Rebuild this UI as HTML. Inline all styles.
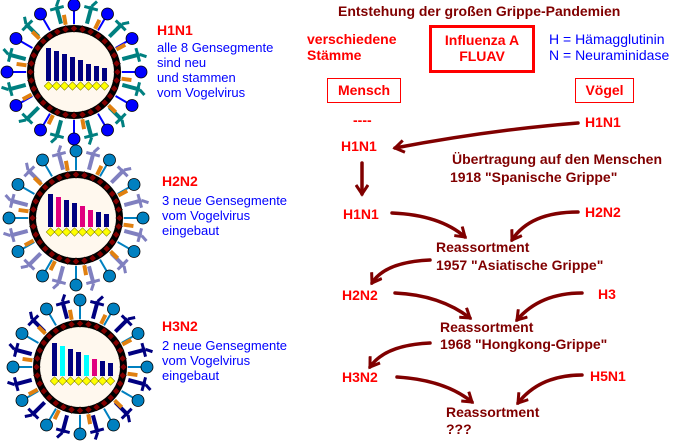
<!DOCTYPE html>
<html><head><meta charset="utf-8"><style>
body{margin:0;background:#fff;width:694px;height:441px;overflow:hidden;position:relative;font-family:"Liberation Sans",sans-serif}
.t{position:absolute;white-space:nowrap;line-height:16px}
.b{font-weight:bold}
.r{color:#ff0000}.d{color:#800000}.bl{color:#0000ff}
.s13{font-size:13px}.s14{font-size:14px}
.box{position:absolute;border:1px solid #ff0000}
</style></head><body>
<svg id="sv" width="694" height="441" style="position:absolute;left:0;top:0">
<defs><marker id="ah" markerWidth="14" markerHeight="14" refX="10" refY="7" orient="auto" markerUnits="userSpaceOnUse">
<polyline points="1,1 10,7 1,13" fill="none" stroke="#800000" stroke-width="3"/></marker></defs>
<g fill="none" stroke="#800000" stroke-width="3.5" stroke-linecap="round" marker-end="url(#ah)">
<path d="M578,123 Q490,130 395,148"/>
<path d="M362,163 L362,194"/>
<path d="M392,213 Q440,215 465,237"/>
<path d="M578,212 Q530,212 512,240"/>
<path d="M430,260 Q385,262 372,283"/>
<path d="M395,293 Q440,295 470,318"/>
<path d="M582,293 Q540,293 517,320"/>
<path d="M430,343 Q385,345 370,367"/>
<path d="M397,377 Q445,380 472,402"/>
<path d="M582,375 Q540,375 518,403"/>
</g>
<g id="vir"></g>
</svg>
<div class="t b d s14" style="left:338px;top:3px">Entstehung der großen Grippe-Pandemien</div>
<div class="t b r s14" style="left:307px;top:31px">verschiedene<br>Stämme</div>
<div style="position:absolute;left:429px;top:25px;width:100px;height:42px;border:3px solid #ff0000"></div>
<div class="t b r s14" style="left:429px;top:32px;width:106px;text-align:center">Influenza A<br>FLUAV</div>
<div class="t bl s14" style="left:549px;top:31px">H = Hämagglutinin<br>N = Neuraminidase</div>
<div class="box" style="left:327px;top:78px;width:72px;height:23px"></div>
<div class="t b r s14" style="left:327px;top:82px;width:74px;text-align:center">Mensch</div>
<div class="box" style="left:575px;top:78px;width:57px;height:23px"></div>
<div class="t b r s14" style="left:575px;top:82px;width:59px;text-align:center">Vögel</div>
<div class="t b r s14" style="left:353px;top:112px">----</div>
<div class="t b r s14" style="left:585px;top:114px">H1N1</div>
<div class="t b r s14" style="left:341px;top:138px">H1N1</div>
<div class="t b d s14" style="left:452px;top:151px">Übertragung auf den Menschen</div>
<div class="t b d s14" style="left:450px;top:169px">1918 "Spanische Grippe"</div>
<div class="t b r s14" style="left:343px;top:206px">H1N1</div>
<div class="t b r s14" style="left:585px;top:204px">H2N2</div>
<div class="t b d s14" style="left:436px;top:239px">Reassortment</div>
<div class="t b d s14" style="left:436px;top:257px">1957 "Asiatische Grippe"</div>
<div class="t b r s14" style="left:342px;top:287px">H2N2</div>
<div class="t b r s14" style="left:598px;top:286px">H3</div>
<div class="t b d s14" style="left:440px;top:319px">Reassortment</div>
<div class="t b d s14" style="left:440px;top:336px">1968 "Hongkong-Grippe"</div>
<div class="t b r s14" style="left:342px;top:369px">H3N2</div>
<div class="t b r s14" style="left:590px;top:368px">H5N1</div>
<div class="t b d s14" style="left:446px;top:404px">Reassortment</div>
<div class="t b d s14" style="left:446px;top:421px">???</div>
<div class="t b r s14" style="left:157px;top:22px">H1N1</div>
<div class="t bl s13" style="left:157px;top:40px;line-height:15px">alle 8 Gensegmente<br>sind neu<br>und stammen<br>vom Vogelvirus</div>
<div class="t b r s14" style="left:162px;top:173px">H2N2</div>
<div class="t bl s13" style="left:162px;top:193px;line-height:15px">3 neue Gensegmente<br>vom Vogelvirus<br>eingebaut</div>
<div class="t b r s14" style="left:162px;top:318px">H3N2</div>
<div class="t bl s13" style="left:162px;top:338px;line-height:15px">2 neue Gensegmente<br>vom Vogelvirus<br>eingebaut</div>
<script>
var g=document.getElementById('vir'),h='';
function virus(cx,cy,ball,na,cols){
 var i,a,c,s;
 for(i=0;i<12;i++){a=(i*30+15)*Math.PI/180;c=Math.cos(a);s=Math.sin(a);
  var x1=cx+c*50,y1=cy+s*50,x2=cx+c*68,y2=cy+s*68;
  h+='<line x1="'+x1+'" y1="'+y1+'" x2="'+x2+'" y2="'+y2+'" stroke="'+na+'" stroke-width="4"/>';
  var px=-s,py=c;
  h+='<line x1="'+(x2+px*7-c*2)+'" y1="'+(y2+py*7-s*2)+'" x2="'+(x2-px*7-c*2)+'" y2="'+(y2-py*7-s*2)+'" stroke="'+na+'" stroke-width="3"/>';
  h+='<line x1="'+x2+'" y1="'+y2+'" x2="'+(x2+c*6+px*4)+'" y2="'+(y2+s*6+py*4)+'" stroke="'+na+'" stroke-width="3"/>';}
 for(i=0;i<12;i++){a=(i*30)*Math.PI/180;c=Math.cos(a);s=Math.sin(a);
  h+='<line x1="'+(cx+c*48)+'" y1="'+(cy+s*48)+'" x2="'+(cx+c*64)+'" y2="'+(cy+s*64)+'" stroke="'+ball+'" stroke-width="2"/>';
  h+='<circle cx="'+(cx+c*67)+'" cy="'+(cy+s*67)+'" r="6" fill="'+ball+'" stroke="#000" stroke-width="0.8"/>';}
 for(i=0;i<10;i++){a=(i*36+8)*Math.PI/180;c=Math.cos(a);s=Math.sin(a);
  h+='<line x1="'+(cx+c*48)+'" y1="'+(cy+s*48)+'" x2="'+(cx+c*58)+'" y2="'+(cy+s*58)+'" stroke="#e08010" stroke-width="4"/>';}
 h+='<circle cx="'+cx+'" cy="'+cy+'" r="47" fill="#000"/>';
 h+='<circle cx="'+cx+'" cy="'+cy+'" r="40" fill="#fff8ee"/>';
 for(i=0;i<32;i++){a=i*Math.PI*2/32;c=Math.cos(a);s=Math.sin(a);var x=cx+c*43.5,y=cy+s*43.5;
  h+='<rect x="'+(x-2.6)+'" y="'+(y-2.6)+'" width="5.2" height="5.2" fill="#800000" stroke="#000" stroke-width="0.6" transform="rotate(45 '+x+' '+y+')"/>';}
 var tops=[24,21,18,15,12,8,6,4];
 for(i=0;i<8;i++){var bx=cx-28+i*8;
  h+='<rect x="'+bx+'" y="'+(cy-tops[i])+'" width="5" height="'+(tops[i]+9)+'" fill="'+cols[i]+'"/>';
  h+='<rect x="'+(bx+2.5-3)+'" y="'+(cy+14-3)+'" width="6" height="6" fill="#ffff00" stroke="#808000" stroke-width="0.6" transform="rotate(45 '+(bx+2.5)+' '+(cy+14)+')"/>';}
}
var N='#000080',M='#e0007f',C='#00ffff';
virus(74,72,'#0000ff','#008080',[N,N,N,N,N,N,N,N]);
virus(76,218,'#0080c0','#8080c0',[N,M,N,N,M,M,N,N]);
virus(80,367,'#0080c0','#000080',[N,C,N,N,C,M,N,N]);
g.innerHTML=h;
</script>
</body></html>
